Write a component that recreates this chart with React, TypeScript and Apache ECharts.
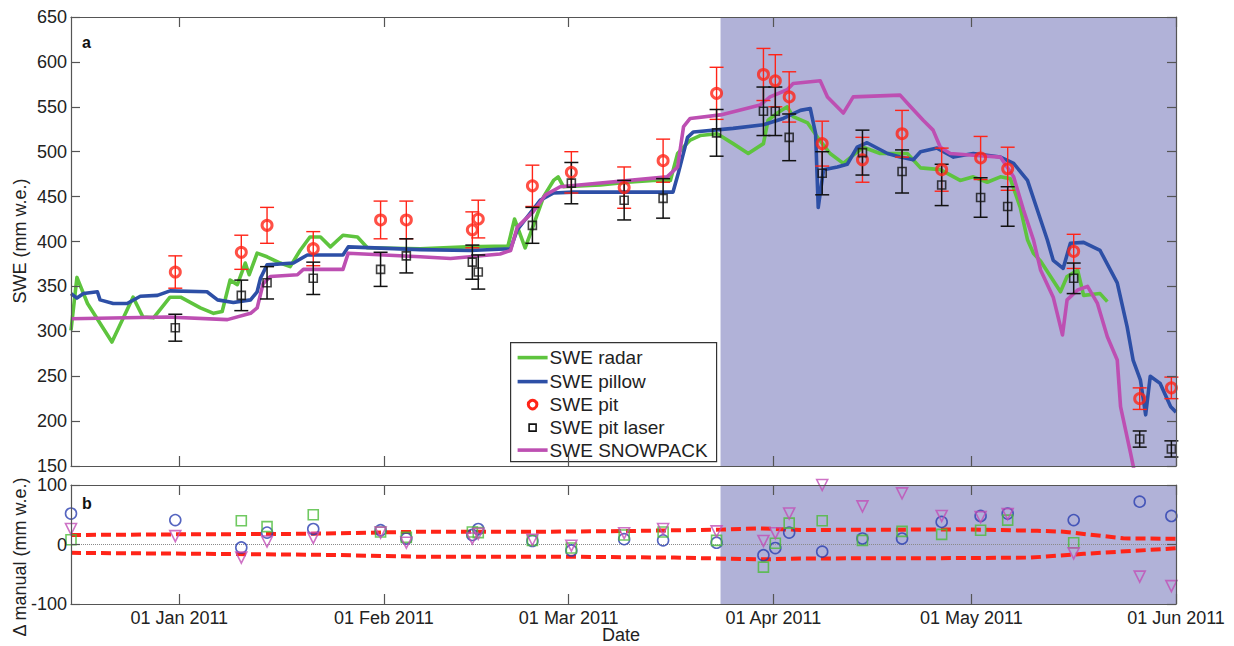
import React, { useEffect, useRef } from "react";
import * as echarts from "echarts";

// x values are days counted from 01 Jan 2011 (negative = December 2010)
const X_MIN = -16.4;
const X_MAX = 151;
const MONTH_TICKS = [0, 31, 59, 90, 120, 151];
const MONTH_LABELS = ["01 Jan 2011", "01 Feb 2011", "01 Mar 2011", "01 Apr 2011", "01 May 2011", "01 Jun 2011"];
const SHADE_START = 82; // 24 Mar 2011

const TOP_Y_MIN = 150;
const TOP_Y_MAX = 650;
const BOT_Y_MIN = -100;
const BOT_Y_MAX = 100;

const LEGEND_NAMES = ["SWE radar", "SWE pillow", "SWE pit", "SWE pit laser", "SWE SNOWPACK"];

const radar: number[][] = [
  [-16.4, 301], [-15.5, 360], [-13.9, 331], [-10.2, 288], [-7.0, 338], [-5.5, 316], [-3.9, 315],
  [-1.4, 338], [0.2, 338], [3.2, 326], [5.2, 320], [6.5, 322], [7.7, 357], [8.8, 352], [10.0, 376],
  [10.6, 363], [11.8, 387], [13.3, 383], [15.3, 376], [16.8, 372], [18.3, 390], [19.8, 405],
  [21.4, 405], [22.9, 394], [24.8, 407], [27.0, 405], [28.5, 393], [36.5, 392], [43.6, 394],
  [49.8, 395], [50.8, 425], [52.4, 393], [53.5, 415], [55.2, 450], [56.7, 468], [57.4, 472],
  [58.2, 461], [63.8, 463], [67.9, 466], [71.8, 468], [74.4, 468], [75.5, 498], [77.4, 513],
  [78.9, 518], [81.5, 520], [83.9, 509], [86.2, 498], [88.5, 509], [89.2, 535], [90.6, 543],
  [92.1, 550], [93.0, 539], [95.2, 532], [96.7, 516], [98.6, 498], [100.6, 487], [103.6, 505],
  [106.2, 498], [110.3, 498], [112.3, 482], [115.3, 480], [118.3, 468], [120.3, 472], [122.4, 466],
  [124.4, 472], [125.9, 470], [127.4, 438], [128.5, 402], [129.4, 387], [130.5, 378], [133.5, 344],
  [134.5, 361], [136.1, 368], [137.0, 340], [139.5, 342], [140.6, 333],
];

const pillow: number[][] = [
  [-16.4, 342], [-15.5, 337], [-14.5, 342], [-12.4, 344], [-12.0, 335], [-10.0, 331], [-7.9, 331],
  [-5.9, 339], [-3.3, 340], [-1.4, 345], [4.2, 344], [5.8, 335], [8.2, 332], [10.8, 335], [11.8, 344],
  [12.3, 359], [13.3, 374], [17.3, 376], [19.4, 385], [24.8, 385], [25.6, 394], [36.5, 391],
  [44.1, 390], [50.2, 392], [51.2, 413], [54.7, 446], [56.7, 454], [59.7, 455], [74.8, 455],
  [75.6, 476], [77.0, 516], [77.9, 522], [83.9, 526], [88.5, 530], [91.5, 537], [94.1, 546],
  [95.6, 548], [96.4, 520], [96.8, 438], [97.6, 480], [99.7, 483], [101.2, 486], [102.7, 505],
  [104.2, 510], [107.3, 498], [109.2, 494], [111.2, 491], [112.3, 500], [114.8, 504], [117.3, 494],
  [120.3, 498], [124.4, 494], [126.4, 487], [128.5, 468], [130.5, 424], [131.5, 402], [132.4, 379],
  [133.9, 370], [135.0, 398], [137.0, 399], [139.5, 390], [142.1, 354], [143.6, 305], [144.5, 268],
  [145.6, 246], [146.4, 207], [147.1, 250], [148.6, 242], [150.2, 216], [151.0, 210],
];

const snowpack: number[][] = [
  [-16.4, 314], [-1.8, 316], [7.3, 313], [10.8, 320], [11.8, 326], [12.7, 353], [13.8, 361],
  [17.9, 363], [18.8, 369], [24.8, 369], [25.6, 387], [36.5, 383], [41.1, 381], [48.6, 386],
  [50.2, 390], [51.2, 416], [53.6, 433], [55.5, 452], [57.7, 461], [73.9, 472], [75.5, 483],
  [76.4, 528], [77.4, 537], [82.0, 541], [88.0, 552], [89.5, 561], [92.1, 569], [93.0, 576],
  [97.1, 579], [98.2, 561], [100.6, 543], [102.1, 561], [109.2, 563], [110.8, 550], [112.7, 535],
  [114.2, 524], [115.3, 505], [116.8, 498], [120.3, 496], [124.4, 494], [126.4, 472], [127.9, 435],
  [129.4, 402], [130.5, 368], [132.4, 338], [133.8, 296], [134.5, 335], [136.1, 346], [137.6, 350],
  [139.1, 331], [140.6, 294], [142.1, 268], [142.6, 216], [144.1, 165], [144.8, 140],
];

// manual measurement days
const pitDays = [-0.6, 9.4, 13.3, 20.3, 30.5, 34.4, 44.4, 45.3, 53.5, 59.4, 67.4, 73.3, 81.4, 88.5,
  90.3, 92.4, 97.4, 103.5, 109.5, 115.5, 121.4, 125.5, 135.5, 145.5, 150.3];
const pitValues = [366, 388, 418, 392, 424, 424, 413, 425, 462, 477, 460, 490, 565, 586, 579, 561,
  509, 491, 520, 480, 493, 481, 389, 225, 237];
const pitErrors = [18, 19, 20, 19, 21, 21, 20, 21, 23, 23, 23, 24, 29, 29, 29, 28, 25, 25, 26, 24,
  24, 24, 19, 12, 12];
const laserValues = [304, 340, 354, 359, 369, 384, 377, 366, 418, 465, 446, 448, 521, 545, 545, 516,
  476, 499, 478, 463, 449, 439, 359, 180, 169];
const laserErrors = [15, 17, 18, 18, 19, 19, 19, 19, 20, 23, 22, 22, 26, 27, 27, 26, 24, 25, 24, 23,
  22, 22, 17, 9, 9];

// panel b: differences to manual measurements
const deltaPillow: number[][] = [
  [-16.4, 52], [-0.6, 41], [9.4, -5], [13.3, 20], [20.3, 26], [30.5, 24], [34.4, 10], [44.4, 16],
  [45.3, 26], [53.5, 6], [59.4, -10], [67.4, 9], [73.3, 7], [81.4, 3], [88.5, -18], [90.3, -6],
  [92.4, 20], [97.4, -12], [103.5, 10], [109.5, 10], [115.5, 38], [121.4, 48], [125.5, 52],
  [135.5, 41], [145.5, 72], [150.3, 48],
];
const deltaRadar: number[][] = [
  [-16.4, 8], [9.4, 40], [13.3, 30], [20.3, 50], [30.5, 21], [34.4, 12], [44.4, 21], [45.3, 20],
  [53.5, 7], [59.4, -6], [67.4, 16], [73.3, 21], [81.4, 7], [88.5, -38], [90.3, 2], [92.4, 36],
  [97.4, 40], [103.5, 7], [109.5, 22], [115.5, 17], [121.4, 24], [125.5, 41], [135.5, 3],
];
const deltaSnowpack: number[][] = [
  [-16.4, 26], [-0.6, 14], [9.4, -22], [13.3, 5], [20.3, 11], [30.5, 20], [34.4, 3], [44.4, 10],
  [45.3, 18], [53.5, 8], [59.4, -2], [67.4, 19], [73.3, 26], [81.4, 22], [88.5, 6], [90.3, 19],
  [92.4, 52], [97.4, 100], [103.5, 64], [109.5, 86], [115.5, 48], [121.4, 46], [125.5, 51],
  [135.5, -15], [145.5, -54], [150.3, -70],
];
const upperBound: number[][] = [
  [-16.4, 16], [-1, 17], [20, 18], [36.5, 21.5], [55, 21.5], [68, 22.7], [82, 25], [88, 27],
  [94.1, 24.4], [110, 25], [119, 25.5], [130, 23], [134, 21.5], [143, 10.4], [151, 9.5],
];
const lowerBound: number[][] = [
  [-16.4, -14], [8, -16], [23.5, -17.6], [36.5, -20.6], [58.5, -20.5], [75, -22], [88, -25],
  [94.1, -23.5], [119, -22.8], [129, -22], [137, -15.7], [151, -6.4],
];

const FONT = "'Liberation Sans', Arial, Helvetica, sans-serif";
const C_RADAR = "#5ec43e";
const C_PILLOW = "#2d4fa6";
const C_SNOW = "#bd4fb2";
const C_PIT = "#ff2418";
const C_LASER = "#111111";
const C_SHADE = "#b1b2d8";
const C_AXIS = "#555555";

function monthLabel(v: number): string {
  let best = 0;
  for (let i = 1; i < MONTH_TICKS.length; i++) {
    if (Math.abs(MONTH_TICKS[i] - v) < Math.abs(MONTH_TICKS[best] - v)) best = i;
  }
  return MONTH_LABELS[best];
}

function xAxisDef(gridIndex: number, position: string, labels: boolean) {
  return {
    type: "value",
    gridIndex,
    position,
    min: X_MIN,
    max: X_MAX,
    z: 5,
    splitLine: { show: false },
    axisLine: { show: true, onZero: false, lineStyle: { color: C_AXIS, width: 1.2 } },
    axisTick: { show: true, inside: true, length: 10, customValues: MONTH_TICKS, lineStyle: { color: C_AXIS, width: 1.2 } },
    axisLabel: {
      show: labels,
      customValues: MONTH_TICKS,
      formatter: (v: number) => monthLabel(v),
      fontSize: 18,
      color: "#222",
      fontFamily: FONT,
      margin: 5,
      showMinLabel: true,
      showMaxLabel: true,
    },
  };
}

function yAxisDef(gridIndex: number, position: string, min: number, max: number, interval: number, labels: boolean) {
  return {
    type: "value",
    gridIndex,
    position,
    min,
    max,
    interval,
    z: 5,
    splitLine: { show: false },
    axisLine: { show: true, onZero: false, lineStyle: { color: C_AXIS, width: 1.2 } },
    axisTick: { show: true, inside: true, length: 9, lineStyle: { color: C_AXIS, width: 1.2 } },
    axisLabel: { show: labels, fontSize: 18, color: "#222", fontFamily: FONT, margin: 4 },
  };
}

function errorBarRenderer(color: string, capHalf: number, width: number) {
  return (params: any, api: any) => {
    const x = api.value(0);
    const y = api.value(1);
    const e = api.value(2);
    const hi = api.coord([x, y + e]);
    const lo = api.coord([x, y - e]);
    const style = { stroke: color, lineWidth: width };
    return {
      type: "group",
      children: [
        { type: "line", shape: { x1: hi[0], y1: hi[1], x2: lo[0], y2: lo[1] }, style },
        { type: "line", shape: { x1: hi[0] - capHalf, y1: hi[1], x2: hi[0] + capHalf, y2: hi[1] }, style },
        { type: "line", shape: { x1: lo[0] - capHalf, y1: lo[1], x2: lo[0] + capHalf, y2: lo[1] }, style },
      ],
    };
  };
}

function shadeRenderer(params: any, api: any) {
  const a = api.coord([api.value(0), 0]);
  const b = api.coord([api.value(1), 0]);
  const cs = params.coordSys;
  return {
    type: "rect",
    shape: { x: a[0], y: cs.y, width: b[0] - a[0], height: cs.height },
    style: { fill: C_SHADE },
  };
}

function lineSeries(name: string, data: number[][], color: string) {
  return {
    name,
    type: "line",
    xAxisIndex: 0,
    yAxisIndex: 0,
    data,
    symbol: "none",
    showSymbol: false,
    z: 2,
    lineStyle: { color, width: 3.6, join: "round" },
    itemStyle: { color },
  };
}

function deltaScatter(name: string, data: number[][], color: string, symbol: string, size: number, rotate = 0) {
  return {
    name,
    type: "scatter",
    xAxisIndex: 2,
    yAxisIndex: 2,
    data,
    symbol,
    symbolSize: size,
    symbolRotate: rotate,
    clip: false,
    z: 4,
    itemStyle: { color: "rgba(0,0,0,0)", borderColor: color, borderWidth: 1.6 },
  };
}

export default function App() {
  const ref = useRef<HTMLDivElement>(null);

  useEffect(() => {
    if (!ref.current) return;
    const chart = echarts.init(ref.current, undefined, { renderer: "svg" });

    const pitData = pitDays.map((d, i) => [d, pitValues[i], pitErrors[i]]);
    const laserData = pitDays.map((d, i) => [d, laserValues[i], laserErrors[i]]);

    const rowY = [15, 39, 62, 85, 107.5];
    const legendGraphic = {
      type: "group",
      left: 510,
      top: 342,
      z: 100,
      children: [
        { type: "rect", shape: { x: 0, y: 0, width: 206, height: 119 }, style: { fill: "#fff", stroke: "#333", lineWidth: 1.2 } },
        { type: "line", shape: { x1: 7, y1: rowY[0], x2: 37, y2: rowY[0] }, style: { stroke: C_RADAR, lineWidth: 3.6 } },
        { type: "line", shape: { x1: 7, y1: rowY[1], x2: 37, y2: rowY[1] }, style: { stroke: C_PILLOW, lineWidth: 3.6 } },
        { type: "circle", shape: { cx: 22, cy: rowY[2], r: 4.3 }, style: { fill: "none", stroke: C_PIT, lineWidth: 3 } },
        { type: "rect", shape: { x: 18.5, y: rowY[3] - 3.5, width: 7, height: 7 }, style: { fill: "none", stroke: C_LASER, lineWidth: 1.6 } },
        { type: "line", shape: { x1: 7, y1: rowY[4], x2: 37, y2: rowY[4] }, style: { stroke: C_SNOW, lineWidth: 3.6 } },
        ...LEGEND_NAMES.map((t, i) => ({
          type: "text",
          x: 39,
          y: rowY[i],
          style: { text: t, fontSize: 19, fontFamily: FONT, fill: "#222", textAlign: "left", textVerticalAlign: "middle" },
        })),
      ],
    };

    const option: any = {
      animation: false,
      backgroundColor: "#ffffff",
      textStyle: { fontFamily: FONT },
      grid: [
        { left: 71, top: 17, width: 1105, height: 449 },
        { left: 71, top: 485, width: 1105, height: 119 },
      ],
      xAxis: [
        xAxisDef(0, "bottom", false),
        xAxisDef(0, "top", false),
        xAxisDef(1, "bottom", true),
        xAxisDef(1, "top", false),
      ],
      yAxis: [
        yAxisDef(0, "left", TOP_Y_MIN, TOP_Y_MAX, 50, true),
        yAxisDef(0, "right", TOP_Y_MIN, TOP_Y_MAX, 50, false),
        yAxisDef(1, "left", BOT_Y_MIN, BOT_Y_MAX, 100, true),
        yAxisDef(1, "right", BOT_Y_MIN, BOT_Y_MAX, 100, false),
      ],
      series: [
        { type: "custom", xAxisIndex: 0, yAxisIndex: 0, z: 0, silent: true, data: [[SHADE_START, X_MAX]], renderItem: shadeRenderer, clip: true },
        { type: "custom", xAxisIndex: 2, yAxisIndex: 2, z: 0, silent: true, data: [[SHADE_START, X_MAX]], renderItem: shadeRenderer, clip: true },
        lineSeries(LEGEND_NAMES[0], radar, C_RADAR),
        lineSeries(LEGEND_NAMES[1], pillow, C_PILLOW),
        lineSeries(LEGEND_NAMES[4], snowpack, C_SNOW),
        { type: "custom", name: "pit error", xAxisIndex: 0, yAxisIndex: 0, z: 3, data: pitData, renderItem: errorBarRenderer(C_PIT, 7, 1.4), encode: { x: 0, y: 1 } },
        { type: "custom", name: "laser error", xAxisIndex: 0, yAxisIndex: 0, z: 3, data: laserData, renderItem: errorBarRenderer(C_LASER, 7, 1.5), encode: { x: 0, y: 1 } },
        {
          name: LEGEND_NAMES[2], type: "scatter", xAxisIndex: 0, yAxisIndex: 0, z: 4,
          data: pitDays.map((d, i) => [d, pitValues[i]]),
          symbol: "circle", symbolSize: 10,
          itemStyle: { color: "rgba(0,0,0,0)", borderColor: C_PIT, borderWidth: 3 },
        },
        {
          name: LEGEND_NAMES[3], type: "scatter", xAxisIndex: 0, yAxisIndex: 0, z: 4,
          data: pitDays.map((d, i) => [d, laserValues[i]]),
          symbol: "rect", symbolSize: 8,
          itemStyle: { color: "rgba(0,0,0,0)", borderColor: C_LASER, borderWidth: 1.6 },
        },
        {
          type: "line", xAxisIndex: 2, yAxisIndex: 2, z: 2, symbol: "none", silent: true,
          data: [[X_MIN, 0], [X_MAX, 0]],
          lineStyle: { color: "#8a8a8a", width: 1, type: "dotted" },
        },
        {
          type: "line", xAxisIndex: 2, yAxisIndex: 2, z: 3, symbol: "none", silent: true,
          data: upperBound, lineStyle: { color: C_PIT, width: 4, type: [10, 5] },
        },
        {
          type: "line", xAxisIndex: 2, yAxisIndex: 2, z: 3, symbol: "none", silent: true,
          data: lowerBound, lineStyle: { color: C_PIT, width: 4, type: [10, 5] },
        },
        deltaScatter("Δ pillow", deltaPillow, "#2b3fb0", "circle", 11),
        deltaScatter("Δ radar", deltaRadar, "#4cbc3a", "rect", 10),
        deltaScatter("Δ SNOWPACK", deltaSnowpack, "#c24fb6", "triangle", 11, 180),
      ],
      graphic: [
        legendGraphic,
        { type: "text", x: 82, y: 42, z: 100, style: { text: "a", fontSize: 16, fontWeight: "bold", fontFamily: FONT, fill: "#111", textVerticalAlign: "middle" } },
        { type: "text", x: 82, y: 503, z: 100, style: { text: "b", fontSize: 16, fontWeight: "bold", fontFamily: FONT, fill: "#111", textVerticalAlign: "middle" } },
        { type: "text", x: 20, y: 241, rotation: Math.PI / 2, z: 100, style: { text: "SWE (mm w.e.)", fontSize: 18, fontFamily: FONT, fill: "#222", textAlign: "center", textVerticalAlign: "middle" } },
        { type: "text", x: 20, y: 557, rotation: Math.PI / 2, z: 100, style: { text: "Δ manual (mm w.e.)", fontSize: 18, fontFamily: FONT, fill: "#222", textAlign: "center", textVerticalAlign: "middle" } },
        { type: "text", x: 621, y: 635, z: 100, style: { text: "Date", fontSize: 18, fontFamily: FONT, fill: "#222", textAlign: "center", textVerticalAlign: "middle" } },
      ],
    };

    chart.setOption(option);
    return () => chart.dispose();
  }, []);

  return <div ref={ref} style={{ position: "absolute", left: 0, top: 0, width: 1234, height: 646 }} />;
}
